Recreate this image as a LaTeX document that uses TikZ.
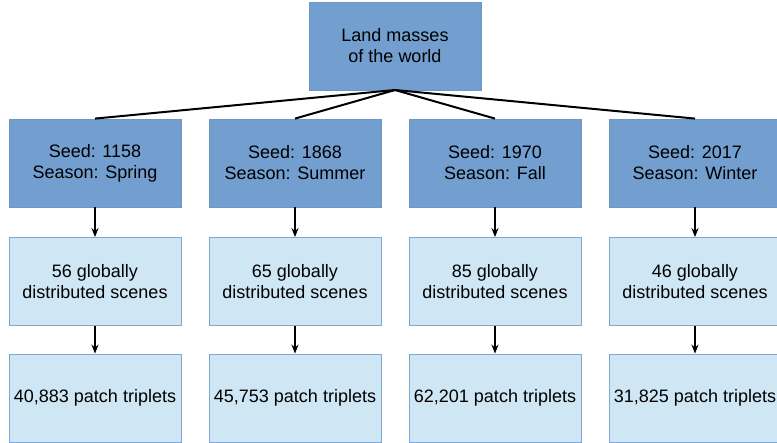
\documentclass[tikz,border=0pt]{standalone}
\usepackage{fontspec}
\setmainfont{Liberation Sans}
\usetikzlibrary{arrows.meta}
\definecolor{darkbox}{HTML}{729FCF}
\definecolor{darkedge}{HTML}{6B98C9}
\definecolor{lightbox}{HTML}{CFE6F4}
\definecolor{lightedge}{HTML}{7FA8D4}
\tikzset{
  box/.style={rectangle, minimum width=172pt, minimum height=88pt, inner sep=0pt,
    align=center, font=\fontsize{18pt}{21pt}\selectfont, line width=0.8pt},
  dbox/.style={box, fill=darkbox, draw=darkedge},
  lbox/.style={box, fill=lightbox, draw=lightedge},
  link/.style={line width=2pt, black},
  arr/.style={line width=2pt, black, -{Stealth[length=9pt,width=7pt]}}
}
\begin{document}
\begin{tikzpicture}[x=1pt,y=-1pt]
\useasboundingbox (0,0) rectangle (777,443);
\clip (0,0) rectangle (777,443);
\node[dbox] (top) at (395,46) {Land masses\\of the world};
\coordinate (hub) at (395,90);
\foreach \i/\x/\seed/\season/\scenes/\trip in {1/95/1158/Spring/56/{40,883},2/295/1868/Summer/65/{45,753},3/495/1970/Fall/85/{62,201},4/695/2017/Winter/46/{31,825}}{
  \node[dbox] (s\i) at (\x,163) {Seed: \seed\\Season: \season};
  \node[lbox] (c\i) at (\x,281.5) {\scenes{} globally\\distributed scenes};
  \node[lbox] (p\i) at (\x,398) {\trip{} patch triplets};
  \draw[link] (hub) -- (s\i.north);
  \draw[arr] (s\i) -- (c\i);
  \draw[arr] (c\i) -- (p\i);
}
\end{tikzpicture}
\end{document}
